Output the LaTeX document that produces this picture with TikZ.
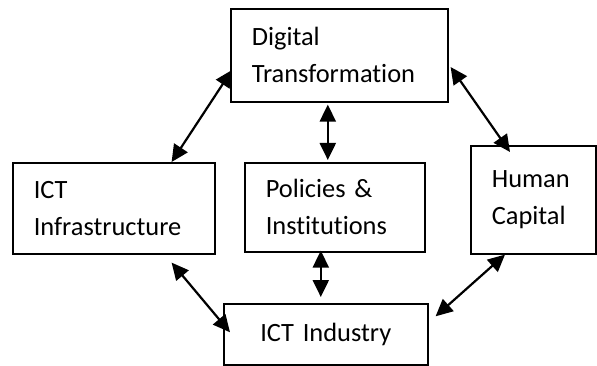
\documentclass[tikz,border=0pt]{standalone}
\usepackage{fontspec}
\setmainfont{Carlito}[Ligatures=NoCommon]
\usetikzlibrary{arrows.meta}

\tikzset{
  box/.style={draw, line width=1.6pt, anchor=north west, inner xsep=21pt,
    align=left, font=\fontsize{26.4}{37}\selectfont},
  link/.style={line width=2.2pt, >={Triangle[length=17pt,width=16pt]}, <->}
}

\begin{document}
\begin{tikzpicture}[x=1pt,y=-1pt]
\useasboundingbox (0,0) rectangle (597,366);

\node[box, minimum width=217pt, minimum height=93pt, text width=175pt] (dt) at (230,8) {Digital\\Transformation};
\node[box, minimum width=202pt, minimum height=91pt, text width=160pt] (infra) at (12,162) {ICT\\Infrastructure};
\node[box, minimum width=180pt, minimum height=89pt, text width=138pt] (pol) at (244,162) {Policies \&\\Institutions};
\node[box, minimum width=125pt, minimum height=108pt, text width=83pt] (hc) at (470,145) {Human\\Capital\\[-14pt]};
\node[box, minimum width=204pt, minimum height=61pt, text width=162pt, align=center] (ind) at (223,303) {ICT Industry};

\draw[link] ([xshift=-44pt]infra.north east) -- ([xshift=2pt,yshift=-62pt]dt.north west);
\draw[link] ([xshift=2pt,yshift=-59pt]dt.north east) -- ([xshift=40pt,yshift=-7pt]hc.north west);
\draw[link] ([xshift=-7pt,yshift=-2pt]dt.south -| pol.north) -- ([xshift=-7pt,yshift=2pt]pol.north);
\draw[link] ([xshift=-14pt,yshift=2pt]pol.south) -- ([xshift=-14pt,yshift=6pt]pol.south |- ind.north);
\draw[link] ([xshift=-44pt,yshift=-8pt]infra.south east) -- ([xshift=7pt,yshift=2pt]ind.west);
\draw[link] ([xshift=35pt]hc.south west) -- ([xshift=7pt,yshift=18pt]ind.east);
\end{tikzpicture}
\end{document}
